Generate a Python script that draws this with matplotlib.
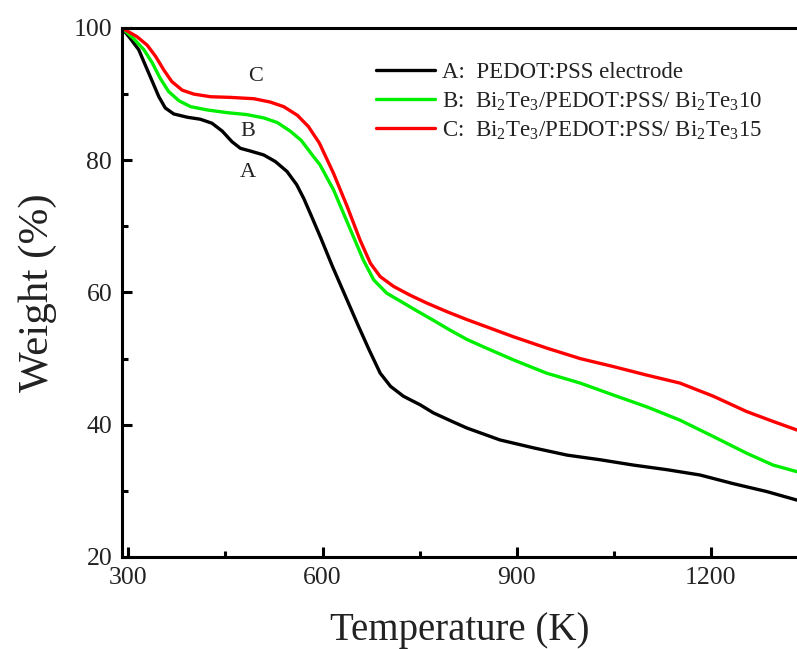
import matplotlib
matplotlib.use("Agg")
import matplotlib.pyplot as plt
from matplotlib.ticker import MultipleLocator

plt.rcParams['font.family'] = ['Liberation Serif', 'DejaVu Serif']
plt.rcParams['mathtext.fontset'] = 'custom'
plt.rcParams['mathtext.rm'] = 'Liberation Serif'
plt.rcParams['mathtext.it'] = 'Liberation Serif:italic'
plt.rcParams['mathtext.bf'] = 'Liberation Serif:bold'

# Curve A: PEDOT:PSS electrode
temp_a = [290, 303, 316, 326, 337, 347, 357, 370, 391, 411, 429, 445, 460, 473, 488,
          509, 527, 545, 560, 571, 583, 597, 615, 635, 655, 672, 689, 705, 725, 751,
          771, 800, 823, 874, 926, 978, 1029, 1080, 1132, 1183, 1234, 1286, 1333]
weight_a = [100, 98.4, 96.7, 94.4, 91.9, 89.6, 87.9, 87.0, 86.5, 86.2, 85.6, 84.4, 82.8, 81.8, 81.4,
            80.8, 79.8, 78.3, 76.3, 74.2, 71.5, 68.3, 64.0, 59.5, 55.0, 51.3, 47.8, 45.8, 44.3, 43.0,
            41.8, 40.5, 39.5, 37.7, 36.5, 35.4, 34.7, 33.9, 33.2, 32.4, 31.1, 29.9, 28.6]

# Curve B: Bi2Te3/PEDOT:PSS/ Bi2Te3 10
temp_b = [290, 308, 324, 337, 349, 362, 378, 396, 422, 452, 483, 509, 530, 550, 567,
          584, 596, 617, 643, 663, 679, 699, 720, 746, 771, 797, 823, 848, 895, 946,
          998, 1049, 1101, 1152, 1204, 1255, 1296, 1333]
weight_b = [100, 98.4, 96.7, 94.7, 92.4, 90.4, 89.0, 88.1, 87.6, 87.2, 86.9, 86.4, 85.7, 84.4, 83.0,
            80.8, 79.3, 75.5, 69.5, 64.9, 61.9, 59.9, 58.7, 57.2, 55.8, 54.3, 52.9, 51.8, 49.8, 47.8,
            46.3, 44.5, 42.7, 40.7, 38.2, 35.7, 33.9, 32.9]

# Curve C: Bi2Te3/PEDOT:PSS/ Bi2Te3 15
temp_c = [290, 313, 329, 342, 355, 367, 383, 401, 427, 458, 494, 519, 540, 561, 578,
          595, 617, 638, 658, 674, 689, 710, 735, 761, 792, 823, 848, 895, 946, 998,
          1049, 1101, 1152, 1204, 1255, 1296, 1333]
weight_c = [100, 98.7, 97.4, 95.7, 93.6, 91.9, 90.6, 90.0, 89.6, 89.5, 89.3, 88.8, 88.1, 86.8, 85.1,
            82.6, 78.0, 73.0, 67.9, 64.4, 62.4, 60.9, 59.6, 58.4, 57.1, 55.9, 55.0, 53.3, 51.6, 50.0,
            48.8, 47.5, 46.3, 44.3, 42.0, 40.5, 39.2]

labels = ['A:  PEDOT:PSS electrode',
          r'B:  Bi$_2$Te$_3$/PEDOT:PSS/ Bi$_2$Te$_3$10',
          r'C:  Bi$_2$Te$_3$/PEDOT:PSS/ Bi$_2$Te$_3$15']
colors = ['#000000', '#00ee00', '#ff0000']
curve_tags = ['A', 'B', 'C']
tag_pos_x = [485, 485, 496]
tag_pos_y = [78.2, 84.4, 92.6]

fig = plt.figure(figsize=(7.97, 6.49), dpi=100)
ax = fig.add_axes([0.153, 0.1418, 0.847, 0.8151])

for t, w, c, lab in zip([temp_a, temp_b, temp_c], [weight_a, weight_b, weight_c], colors, labels):
    ax.plot(t, w, color=c, lw=2.4, label=lab, solid_capstyle='round', solid_joinstyle='round')

for tag, tx, ty in zip(curve_tags, tag_pos_x, tag_pos_y):
    ax.text(tx, ty, tag, fontsize=16, ha='center', va='center', color='#222222')

ax.set_xlim(290, 1333)
ax.set_ylim(20, 100)
ax.xaxis.set_major_locator(MultipleLocator(300))
ax.xaxis.set_minor_locator(MultipleLocator(150))
ax.yaxis.set_major_locator(MultipleLocator(20))
ax.yaxis.set_minor_locator(MultipleLocator(10))
ax.set_xticks([300, 600, 900, 1200])

for side in ['left', 'bottom', 'top']:
    ax.spines[side].set_linewidth(2.2)
ax.spines['right'].set_visible(False)

ax.tick_params(which='major', direction='in', length=7, width=2.2, labelsize=18.5, pad=7,
               labelcolor='#222222')
ax.tick_params(which='minor', direction='in', length=4, width=2.2)
ax.tick_params(top=False, right=False, which='both')

ax.set_xlabel('Temperature (K)', fontsize=28, color='#222222', labelpad=17)
ax.set_ylabel('Weight (%)', fontsize=31, color='#222222', labelpad=12)

leg = ax.legend(loc='upper left', bbox_to_anchor=(0.376, 0.935), frameon=False, fontsize=16.5,
                handlelength=2.6, handletextpad=0.3, labelspacing=0.3, borderpad=0,
                borderaxespad=0)
for txt in leg.get_texts():
    txt.set_color('#222222')

fig.savefig('out.png', dpi=100)
